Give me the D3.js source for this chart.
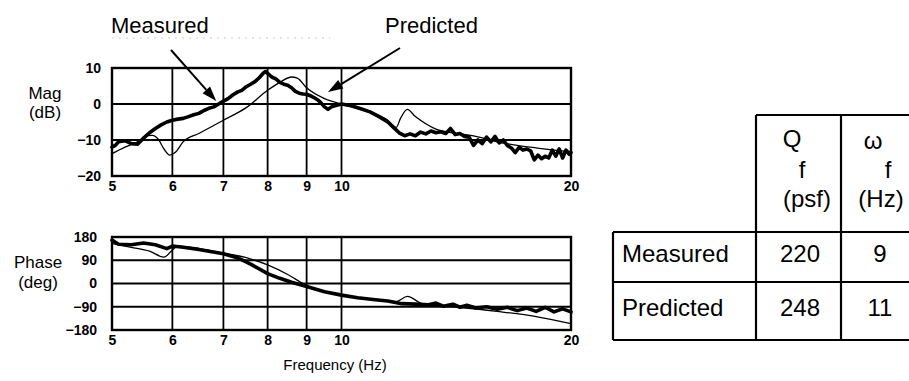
<!DOCTYPE html>
<html>
<head>
<meta charset="utf-8">
<script src="https://cdn.jsdelivr.net/npm/d3@7"></script>
<style>
  body { margin: 0; background: #fff; }
  svg { display: block; font-family: "Liberation Sans", Arial, sans-serif; }
</style>
</head>
<body>
<svg id="drawing_region"></svg>
<script>
// measured magnitude (thick line)
const magMeasFreq = [5.0, 5.05, 5.1, 5.2, 5.3, 5.4, 5.5, 5.6, 5.7, 5.8, 5.9, 6.0, 6.1, 6.2, 6.3, 6.4, 6.5, 6.6, 6.7, 6.8, 6.9,
  7.0, 7.1, 7.2, 7.3, 7.4, 7.5, 7.6, 7.7, 7.8, 7.9, 7.95, 8.0, 8.1, 8.2, 8.3, 8.4, 8.5, 8.6, 8.7, 8.8, 8.9,
  9.0, 9.1, 9.2, 9.3, 9.4, 9.5, 9.6, 9.7, 9.8, 10.0, 10.3, 10.6, 10.9, 11.2, 11.5, 11.7, 11.9,
  12.1, 12.3, 12.5, 12.7, 12.9, 13.1, 13.3, 13.5, 13.7, 13.9, 14.1, 14.3, 14.5, 14.7, 14.9,
  15.1, 15.3, 15.5, 15.7, 15.9, 16.1, 16.3, 16.5, 16.7, 16.9, 17.1, 17.3, 17.5, 17.7, 17.9,
  18.1, 18.3, 18.5, 18.7, 18.9, 19.1, 19.3, 19.5, 19.7, 19.9, 20.0];
const magMeas = [-12, -11.5, -10.5, -10.2, -11, -11.2, -9.5, -8, -6.8, -5.8, -5, -4.5, -4.2, -4, -3.5, -3, -2.6, -1.8, -1.2, -0.8, 0,
  0.8, 1.5, 2.5, 3.3, 3.8, 4.8, 5.5, 6.2, 7.3, 8.6, 9, 8.5, 7.5, 7, 6, 5.5, 5.2, 4.5, 3.5, 3, 2.8,
  2.7, 2.3, 1.8, 1.2, 0.3, -0.8, -1.5, -0.8, -0.5, 0, -0.5, -1.3, -2.2, -3.5, -5, -6.5, -8,
  -8.8, -8.3, -8.8, -7.8, -8.3, -7.5, -8, -7.7, -8.2, -6.8, -8.5, -8.2, -9, -9.2, -11.5,
  -10, -11, -9.2, -10.5, -9, -10.8, -10, -11.5, -12.2, -13.5, -12, -12.8, -12.5, -13, -15.5,
  -14.2, -15.2, -14.5, -15, -12.8, -14.5, -12.5, -15, -12.8, -14, -13.5];

// predicted magnitude (thin line)
const magPredFreq = [5.0, 5.2, 5.4, 5.55, 5.65, 5.75, 5.85, 5.95, 6.05, 6.2, 6.5, 7.0, 7.5, 8.0, 8.3, 8.6, 8.75,
  9.0, 9.5, 10.0, 10.5, 11.0, 11.5, 11.8, 11.95, 12.2, 12.5, 12.9, 13.3, 14, 15, 16, 17, 18, 19, 20];
const magPred = [-13.8, -12, -10.5, -8.8, -8.7, -9.8, -12.5, -14.2, -13.5, -10.5, -8.2, -4.5, -1, 3.8, 6, 7.5, 7.2,
  4.5, 1.5, 0, -1.2, -2.5, -4.5, -6.5, -4, -1.5, -3.5, -5.5, -7, -8, -9, -10.5, -11.5, -12.2, -12.8, -13.2];

// measured phase (thick line)
const phMeasFreq = [5.0, 5.1, 5.3, 5.5, 5.7, 5.9, 6.0, 6.2, 6.5, 7.0, 7.3, 7.6, 8.0, 8.3, 8.6, 9.0, 9.5, 10, 10.5, 11, 11.5,
  12, 12.5, 13, 13.3, 13.6, 14, 14.3, 14.6, 15, 15.5, 16, 16.5, 17, 17.5, 18, 18.5, 19, 19.5, 20];
const phMeas = [168, 152, 150, 157, 150, 135, 145, 140, 132, 115, 100, 75, 38, 20, 5, -12, -32, -45, -55, -62, -68,
  -78, -80, -82, -76, -88, -80, -92, -84, -95, -90, -100, -92, -105, -95, -108, -92, -110, -98, -110];

// predicted phase (thin line)
const phPredFreq = [5.0, 5.3, 5.6, 5.85, 6.0, 6.1, 6.5, 7.0, 7.5, 8.0, 8.5, 9.0, 9.5, 10, 11, 11.8, 12.2, 12.8, 14, 16, 18, 20];
const phPred = [155, 140, 125, 102, 130, 145, 135, 118, 100, 72, 35, -8, -32, -45, -62, -70, -50, -80, -90, -108, -128, -155];

const freqTicks = [5, 6, 7, 8, 9, 10, 20];
const freqGrid = [6, 7, 8, 9, 10];
const magTicks = [10, 0, -10, -20];
const magGrid = [0, -10];
const phTicks = [180, 90, 0, -90, -180];
const phGrid = [90, 0, -90];

// table
const tableRows = ["Measured", "Predicted"];
const tableQ = [220, 248];
const tableW = [9, 11];

const width = 909, height = 381;
const svg = d3.select('#drawing_region')
    .attr('width', width)
    .attr('height', height);

const x = d3.scaleLog().domain([5, 20]).range([112, 571]);
const yMag = d3.scaleLinear().domain([-20, 10]).range([176, 68]);
const yPh = d3.scaleLinear().domain([-180, 180]).range([330, 237]);

function drawPanel(y, yTicks, yGrid, titles, labelRight, measF, measV, predF, predV, xLabelDy) {
    const g = svg.append('g');
    const [y0, y1] = y.range();

    // grid
    g.selectAll('.vg').data(freqGrid).enter().append('line')
        .attr('x1', d => x(d)).attr('x2', d => x(d))
        .attr('y1', y1).attr('y2', y0)
        .attr('stroke', '#000').attr('stroke-width', 1.8);
    g.selectAll('.hg').data(yGrid).enter().append('line')
        .attr('x1', x.range()[0]).attr('x2', x.range()[1])
        .attr('y1', d => y(d)).attr('y2', d => y(d))
        .attr('stroke', '#000').attr('stroke-width', 1.8);

    // frame
    g.append('rect')
        .attr('x', x.range()[0]).attr('y', y1)
        .attr('width', x.range()[1] - x.range()[0]).attr('height', y0 - y1)
        .attr('fill', 'none').attr('stroke', '#000').attr('stroke-width', 2.4);

    // x axis labels
    const xa = g.append('g')
        .attr('transform', `translate(0,${y0})`)
        .call(d3.axisBottom(x).tickValues(freqTicks).tickFormat(d3.format('d')).tickSize(0).tickPadding(xLabelDy));
    xa.select('.domain').remove();
    xa.selectAll('text').attr('font-size', 14).attr('font-weight', 'bold').attr('fill', '#000')
        .attr('font-family', '"Liberation Sans", Arial, sans-serif');

    // y axis labels
    const ya = g.append('g')
        .attr('transform', `translate(${labelRight},0)`)
        .call(d3.axisLeft(y).tickValues(yTicks).tickSize(0).tickPadding(0));
    ya.select('.domain').remove();
    ya.selectAll('text').attr('font-size', 14).attr('font-weight', 'bold').attr('fill', '#000')
        .attr('font-family', '"Liberation Sans", Arial, sans-serif');

    // axis title (two lines)
    g.selectAll('.yt').data(titles).enter().append('text')
        .attr('x', d => d.x).attr('y', d => d.y)
        .attr('text-anchor', 'middle')
        .attr('font-size', 17)
        .text(d => d.t);

    const line = d3.line().x(d => x(d[0])).y(d => y(d[1]));

    g.append('path')
        .datum(predF.map((f, i) => [f, predV[i]]))
        .attr('d', line.curve(d3.curveMonotoneX))
        .attr('fill', 'none').attr('stroke', '#000').attr('stroke-width', 1.3);

    g.append('path')
        .datum(measF.map((f, i) => [f, measV[i]]))
        .attr('d', line.curve(d3.curveLinear))
        .attr('fill', 'none').attr('stroke', '#000').attr('stroke-width', 3.6)
        .attr('stroke-linejoin', 'round').attr('stroke-linecap', 'round');
}

drawPanel(yMag, magTicks, magGrid,
    [{ t: 'Mag', x: 45, y: 99 }, { t: '(dB)', x: 45, y: 118 }], 101,
    magMeasFreq, magMeas, magPredFreq, magPred, 5);

drawPanel(yPh, phTicks, phGrid,
    [{ t: 'Phase', x: 38, y: 268 }, { t: '(deg)', x: 38, y: 288 }], 97,
    phMeasFreq, phMeas, phPredFreq, phPred, 5);

svg.append('text')
    .attr('x', 335).attr('y', 370)
    .attr('text-anchor', 'middle')
    .attr('font-size', 15)
    .text('Frequency (Hz)');

// faint scan residue under the labels
svg.append('line')
    .attr('x1', 112).attr('x2', 330).attr('y1', 38).attr('y2', 38)
    .attr('stroke', '#ccc').attr('stroke-width', 1).attr('stroke-dasharray', '2,5');

// annotation labels with arrows
const notes = [
    { t: 'Measured', tx: 111, ty: 33, x0: 171, y0: 50, f: 6.85, v: 0.8 },
    { t: 'Predicted', tx: 385, ty: 33, x0: 400, y0: 48, f: 9.6, v: 3.3 }
];
notes.forEach(n => {
    svg.append('text')
        .attr('x', n.tx).attr('y', n.ty)
        .attr('font-size', 22)
        .text(n.t);
    const x1 = x(n.f), y1 = yMag(n.v);
    const ang = Math.atan2(y1 - n.y0, x1 - n.x0);
    const L = 15, Wd = 5;
    const bx = x1 - L * Math.cos(ang), by = y1 - L * Math.sin(ang);
    svg.append('line')
        .attr('x1', n.x0).attr('y1', n.y0).attr('x2', bx).attr('y2', by)
        .attr('stroke', '#000').attr('stroke-width', 2);
    svg.append('polygon')
        .attr('points', [
            [x1, y1],
            [bx + Wd * Math.sin(ang), by - Wd * Math.cos(ang)],
            [bx - Wd * Math.sin(ang), by + Wd * Math.cos(ang)]
        ].map(p => p.join(',')).join(' '))
        .attr('fill', '#000');
});

// table
const colX = [613, 756, 841, 909];
const rowY = [115, 232, 282, 340];
const tg = svg.append('g').attr('stroke', '#000').attr('stroke-width', 2.2);
tg.append('line').attr('x1', colX[1]).attr('x2', colX[3]).attr('y1', rowY[0]).attr('y2', rowY[0]);
[rowY[1], rowY[2], rowY[3]].forEach(yy => {
    tg.append('line').attr('x1', colX[0]).attr('x2', colX[3]).attr('y1', yy).attr('y2', yy);
});
tg.append('line').attr('x1', colX[0]).attr('x2', colX[0]).attr('y1', rowY[1]).attr('y2', rowY[3]);
tg.append('line').attr('x1', colX[1]).attr('x2', colX[1]).attr('y1', rowY[0]).attr('y2', rowY[3]);
tg.append('line').attr('x1', colX[2]).attr('x2', colX[2]).attr('y1', rowY[0]).attr('y2', rowY[3]);

const hdr = [
    { t: 'Q', x: 792, y: 147 }, { t: 'f', x: 802, y: 178 }, { t: '(psf)', x: 807, y: 207 },
    { t: 'ω', x: 873, y: 149 }, { t: 'f', x: 888, y: 178 }, { t: '(Hz)', x: 881, y: 207 }
];
svg.selectAll('.hdr').data(hdr).enter().append('text')
    .attr('x', d => d.x).attr('y', d => d.y)
    .attr('text-anchor', 'middle').attr('font-size', 24)
    .text(d => d.t);

tableRows.forEach((r, i) => {
    const by = [262, 316][i];
    svg.append('text').attr('x', 622).attr('y', by).attr('font-size', 24).text(r);
    svg.append('text').attr('x', 800).attr('y', by).attr('text-anchor', 'middle').attr('font-size', 24).text(tableQ[i]);
    svg.append('text').attr('x', 880).attr('y', by).attr('text-anchor', 'middle').attr('font-size', 24).text(tableW[i]);
});
</script>
</body>
</html>
